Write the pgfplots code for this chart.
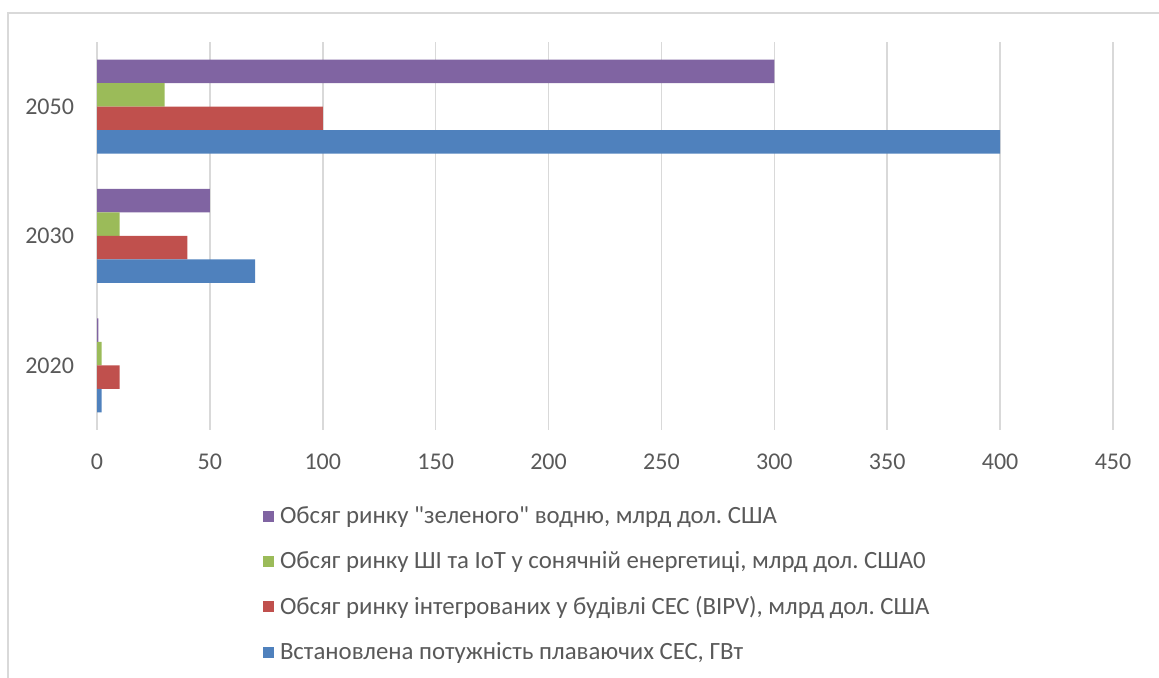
\documentclass[border=0pt]{standalone}
\usepackage{pgfplots}
\pgfplotsset{compat=1.18}
\usepackage{fontspec}
\setmainfont{Carlito}[Ligatures=TeXOff]
\frenchspacing
\definecolor{cPurple}{HTML}{8064A2}
\definecolor{cGreen}{HTML}{9BBB59}
\definecolor{cRed}{HTML}{C0504D}
\definecolor{cBlue}{HTML}{4F81BD}
\definecolor{cGrid}{HTML}{D9D9D9}
\definecolor{cText}{HTML}{595959}
\begin{document}
\begin{tikzpicture}
\useasboundingbox (0,0) rectangle (579.5pt,339pt);
% chart frame (partly cut off at right and bottom)
\draw[cGrid, line width=0.8pt] (4pt,0pt) -- (4pt,332.5pt) -- (579.5pt,332.5pt);
\begin{axis}[
  at={(48.5pt,124pt)}, anchor=south west,
  scale only axis, width=508pt, height=194pt,
  xmin=0, xmax=450, ymin=-0.5, ymax=2.5,
  xtick={0,50,...,450},
  ytick={0,1,2}, yticklabels={2020,2030,2050},
  major tick length=0pt,
  axis line style={draw=none},
  xmajorgrids, major grid style={cGrid, line width=0.75pt},
  tick label style={font=\fontsize{12}{14}\selectfont, text=cText},
  /pgf/number format/assume math mode=true,
  xticklabel style={yshift=-8.5pt},
  yticklabel style={xshift=-8pt},
  xbar, bar width=11.75pt,
  legend style={draw=none, at={(0.163,-0.185)}, anchor=north west,
    font=\fontsize{12.4}{14}\selectfont, text=cText,
    row sep=8.5pt, inner sep=0pt},
  legend cell align=left,
  legend image code/.code={\fill[#1] (0pt,-2.75pt) rectangle (5.5pt,2.75pt);
    \path (6.5pt,0pt);},
]
\addplot[fill=cPurple, draw=none, bar shift=17.625pt] coordinates {(0.6,0) (50,1) (300,2)};
\addlegendentry{Обсяг ринку "зеленого" водню, млрд дол. США}
\addplot[fill=cGreen, draw=none, bar shift=5.875pt] coordinates {(2,0) (10,1) (30,2)};
\addlegendentry{Обсяг ринку ШІ та IoT у сонячній енергетиці, млрд дол. США0}
\addplot[fill=cRed, draw=none, bar shift=-5.875pt] coordinates {(10,0) (40,1) (100,2)};
\addlegendentry{Обсяг ринку інтегрованих у будівлі СЕС (BIPV), млрд дол. США}
\addplot[fill=cBlue, draw=none, bar shift=-17.625pt] coordinates {(2,0) (70,1) (400,2)};
\addlegendentry{Встановлена потужність плаваючих СЕС, ГВт}
\end{axis}
\end{tikzpicture}
\end{document}
